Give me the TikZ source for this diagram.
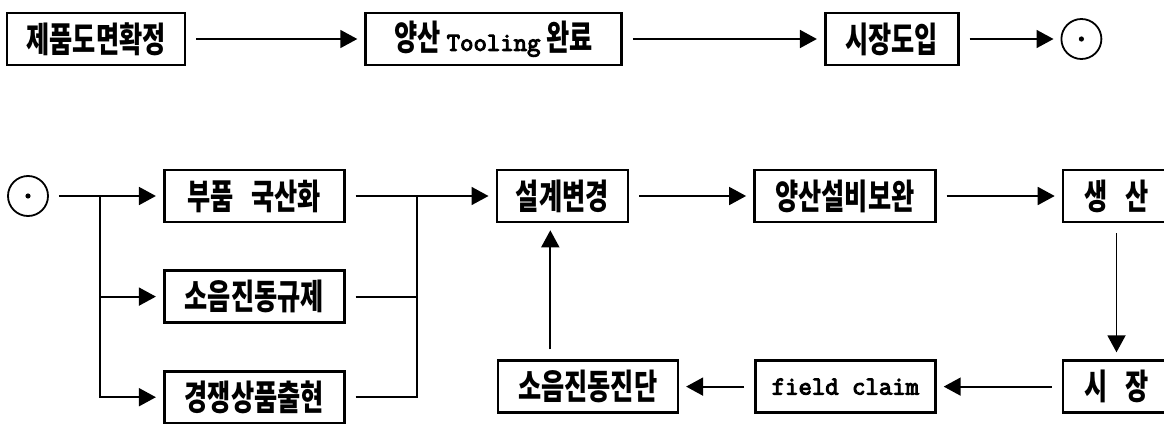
\documentclass[tikz,border=0pt]{standalone}
\usepackage{fontspec}
\setmainfont{Noto Sans CJK KR}[FakeStretch=0.72]
\newfontfamily\monofnt{Latin Modern Mono}[FakeBold=4]
\newcommand{\latinword}[1]{{\fontsize{26}{30}\selectfont\monofnt #1}}
\usetikzlibrary{positioning,arrows.meta}

\begin{document}
\begin{tikzpicture} [
                x=1pt, y=-1pt,
                procnode/.style={
                    rectangle,
                    draw,
                    line width=2.6pt,
                    minimum height=52pt,
                    inner sep=0pt,
                    font=\fontsize{35}{38}\selectfont\bfseries
                },
                joinnode/.style={
                    circle,
                    draw,
                    line width=1.8pt,
                    minimum size=40pt,
                    inner sep=0pt,
                    path picture={\fill (path picture bounding box.center) circle (2.6pt);}
                },
                flowline/.style={
                    line width=1.8pt,
                    shorten <=10pt
                },
                flowarrow/.style={
                    flowline,
                    -{Triangle[length=17pt,width=18pt]},
                    shorten >=7pt
                }
            ]
                \useasboundingbox (0,0) rectangle (1164,423);
                \node[procnode, minimum width=178pt] (drawing) at (96,39)             {제품도면확정};
                \node[procnode, minimum width=256pt] (tooling) [right=178pt of drawing] {양산 \latinword{Tooling} 완료};
                \node[procnode, minimum width=133pt] (launch)  [right=201pt of tooling] {시장도입};
                \node[joinnode]                      (linkA)   [right=101pt of launch]  {};
                \node[joinnode]                       (linkB)     at (28,196)               {};
                \node[procnode, minimum width=180pt] (localize)  [right=114pt of linkB]    {부품\enspace 국산화};
                \node[procnode, minimum width=180pt] (noiserule) [below=46pt of localize]  {소음진동규제};
                \node[procnode, minimum width=180pt] (rival)     [below=46pt of noiserule] {경쟁상품출현};
                \node[procnode, minimum width=131pt] (redesign)  [right=150pt of localize]  {설계변경};
                \node[procnode, minimum width=181pt] (facility)  [right=124pt of redesign]  {양산설비보완};
                \node[procnode, minimum width=107pt] (produce)   [right=125pt of facility]  {생\enspace 산};
                \node[procnode, minimum width=107pt] (market)    [below=136pt of produce]   {시\enspace 장};
                \node[procnode, minimum width=180pt] (claim)     [left=125pt of market]     {\latinword{field claim}};
                \node[procnode, minimum width=180pt] (diagnose)  [left=75pt of claim]       {소음진동진단};
                \coordinate (fork)  at (100,196);
                \coordinate (merge) at (417,196);
                \draw[flowarrow] (drawing) -- (tooling);
                \draw[flowarrow] (tooling) -- (launch);
                \draw[flowarrow] (launch) -- (linkA);
                \draw[flowarrow] (linkB) -- (localize);
                \draw[flowarrow, shorten <=0pt] (fork) |- (noiserule);
                \draw[flowarrow, shorten <=0pt] (fork) |- (rival);
                \draw[flowarrow] (localize) -- (redesign);
                \draw[flowline] (noiserule) -| (merge);
                \draw[flowline] (rival) -| (merge);
                \draw[flowarrow] (redesign) -- (facility);
                \draw[flowarrow] (facility) -- (produce);
                \draw[flowarrow] (produce) -- (market);
                \draw[flowarrow] (market) -- (claim);
                \draw[flowarrow] (claim) -- (diagnose);
                \draw[flowarrow] ([xshift=-12pt]redesign.south |- diagnose.north) -- ([xshift=-12pt]redesign.south);
            \end{tikzpicture}
\end{document}
